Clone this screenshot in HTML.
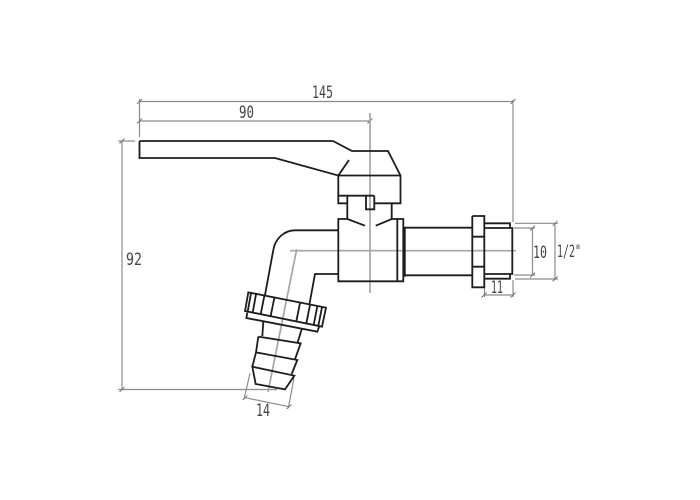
<!DOCTYPE html>
<html><head><meta charset="utf-8"><style>
html,body{margin:0;padding:0;background:#fff}
svg{display:block}
text{font-family:"DejaVu Sans Mono","Liberation Mono",monospace;fill:#444;font-size:17px}
.d{stroke:#8c8c8c;stroke-width:1.2;fill:none}
.c{stroke:#a6a6a6;stroke-width:1.7;fill:none}
.k{stroke:#1c1c1c;stroke-width:1.8;fill:none;stroke-linejoin:miter}
.t{stroke:#777;stroke-width:1;fill:none}
</style></head><body>
<svg width="700" height="500" viewBox="0 0 700 500" xmlns="http://www.w3.org/2000/svg">
<rect width="700" height="500" fill="#fff"/>
<!-- dimension lines -->
<path class="d" d="M139.500 101.500H513M139.500 121H370M139.500 99V137M122 141V390M118 141H135M118 389.500H277M513 100V222M513 280V297M484.500 288V297M484 295H513M515 223.300H558M515 279H558M514 228H535M514 275H535M532.500 228V275M555 223.300V279M245 397.700L289 406.700M250 373.300L244 399.300M294 378L288.300 408.300"/>
<path class="t" d="M137 104L142 99M137 123.500L142 118.500M367.500 123.500L372.500 118.500M510.500 104L515.500 99M119.500 143.500L124.500 138.500M119.500 392L124.500 387M530 230.500L535 225.500M530 277.500L535 272.500M552.500 225.800L557.500 220.800M552.500 281.500L557.500 276.500M481.500 297.500L486.500 292.500M510.500 297.500L515.500 292.500M242.500 400L247.500 395.500M286.500 409L291.500 404.500"/>
<!-- centre lines -->
<path class="c" d="M370 113V293M290 250.700H516M296.700 249.300L268 392"/>
<!-- handle -->
<path class="k" d="M139.500 141V158H275L338.300 175.500V203.300H347.300M374.300 203.300H400.500V175.500L388 151H352L333 141H139.500M338.300 175.500H400.500M338.300 175.500L349 160M338.300 195.700H366M374.300 195.700H366V209.300H374.300V195.700M347.300 195.700V219M391.700 203.300V219"/>
<!-- body -->
<path class="k" d="M347.300 219H338.300V281.300H403.300V219H391.700L375.700 225.700M347.300 219L365 225.700M397.300 219V281.300"/>
<path d="M404.500 226.700V276.700" stroke="#1c1c1c" stroke-width="2.400" fill="none"/>
<path class="k" d="M405 227.700H472.300M405 275.300H472.300"/>
<!-- nut and end -->
<path class="k" d="M472.300 216H484.300V287.300H472.300V216M472.300 236.700H484.300M472.300 266.700H484.300M484.300 223.300H510V228M484.300 228H512.300V274H484.300M484.300 278.700H510V274"/>
<!-- elbow -->
<path class="k" d="M338.700 230.300H295C284 230.300 275 239 273.300 250L265 295M338.700 274H315L309.300 305"/>
<!-- hose nut -->
<g transform="translate(230 220) scale(.33333)">
<path d="M55 217L288 263L276 320L45 273ZM63 220L53 275M78 223L68 278M103 228L92 283M133 234L122 288M210 249L199 304M240 255L229 310M262 259L251 315M276 262L265 317M52 278L49 294L262 335L268 318" fill="none" stroke="#1c1c1c" stroke-width="5.400"/>
</g>
<!-- barbs -->
<g transform="translate(220 310) scale(.33333)">
<path d="M130 32L127 78M245 58L232 100M115 80L242 100L225 148M115 80L108 127M108 127L232 150L215 192M108 127L97 170M97 170L223 197L195 238L107 222Z" fill="none" stroke="#1c1c1c" stroke-width="5.400"/>
</g>
<!-- labels -->
<text x="312" y="98" textLength="21" lengthAdjust="spacingAndGlyphs">145</text>
<text x="239" y="118" textLength="15" lengthAdjust="spacingAndGlyphs">90</text>
<text x="126" y="265" textLength="16" lengthAdjust="spacingAndGlyphs">92</text>
<text x="533" y="258" textLength="14" lengthAdjust="spacingAndGlyphs">10</text>
<text x="557" y="257" textLength="24" lengthAdjust="spacingAndGlyphs">1/2"</text>
<text x="491" y="293" textLength="12" lengthAdjust="spacingAndGlyphs">11</text>
<text x="256" y="416" textLength="14" lengthAdjust="spacingAndGlyphs">14</text>
</svg>
</body></html>
